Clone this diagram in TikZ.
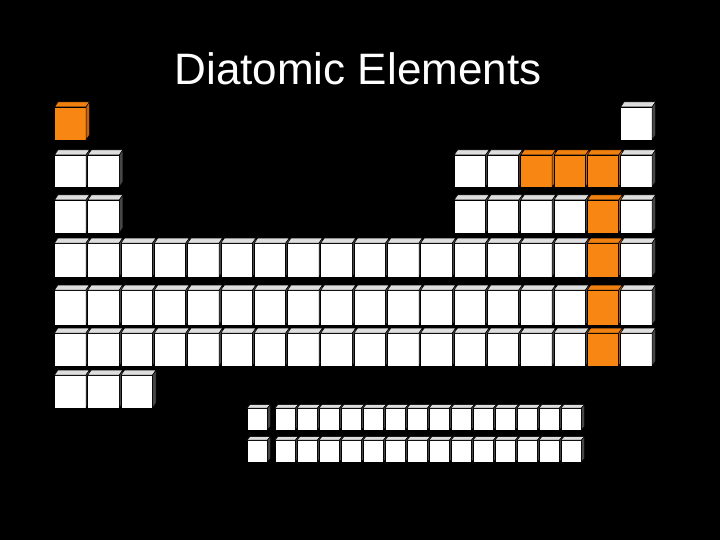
\documentclass[tikz,border=0pt]{standalone}
\usepackage{fontspec}
\setmainfont{Liberation Sans}
\definecolor{wface}{RGB}{255,255,255}
\definecolor{wtop}{RGB}{222,222,222}
\definecolor{wside}{RGB}{70,70,70}
\definecolor{oface}{RGB}{248,134,18}
\definecolor{otop}{RGB}{240,128,16}
\definecolor{oside}{RGB}{196,100,12}
% #1 x, #2 face top, #3 width, #4 height, #5 colour set (w/o), #6 bevel depth x, #7 bevel depth y
\newcommand\pcell[7]{%
  \filldraw[fill=#5face, draw=black, line width=0.9pt] (#1,#2) rectangle ++(#3,#4);
  \filldraw[fill=#5top, draw=black, line width=0.5pt] (#1,#2) -- ++(#6,-#7) -- ++(#3,0) -- ++(-#6,#7) -- cycle;
  \filldraw[fill=#5side, draw=black, line width=0.5pt] ($(#1,#2)+(#3,0)$) -- ++(#6,-#7) -- ++(0,#4) -- ++(-#6,#7) -- cycle;}
\usetikzlibrary{calc}
\begin{document}
\begin{tikzpicture}[x=1pt,y=-1pt]
\fill[black] (0,0) rectangle (720,540);
\useasboundingbox (0,0) rectangle (720,540);
\node[anchor=base, text=white, inner sep=0pt] (title) at (358,85) {\fontsize{44}{50}\selectfont Diatomic Elements};
% row 1
\foreach \c/\k in {1/o,18/w} {\pcell{21.2+33.3*\c}{107}{31.5}{33}{\k}{3.5}{5}}
% row 2
\foreach \c/\k in {1/w,2/w,13/w,14/w,15/o,16/o,17/o,18/w} {\pcell{21.2+33.3*\c}{155}{31.5}{32}{\k}{3.5}{5}}
% row 3
\foreach \c/\k in {1/w,2/w,13/w,14/w,15/w,16/w,17/o,18/w} {\pcell{21.2+33.3*\c}{200}{31.5}{33}{\k}{3.5}{5}}
% rows 4-6
\foreach \y/\h in {243/34,290/35,333/33} {
  \foreach \c in {1,...,16} {\pcell{21.2+33.3*\c}{\y}{31.5}{\h}{w}{3.5}{5}}
  \pcell{21.2+33.3*17}{\y}{31.5}{\h}{o}{3.5}{5}
  \pcell{21.2+33.3*18}{\y}{31.5}{\h}{w}{3.5}{5}
}
% row 7
\foreach \c in {1,2,3} {\pcell{21.2+33.3*\c}{375}{31.5}{33}{w}{3.5}{5}}
% f-block rows
\foreach \y in {408,440} {
  \pcell{247}{\y}{20.5}{22}{w}{3}{3.5}
  \foreach \j in {0,...,13} {\pcell{275+22*\j}{\y}{20.5}{22}{w}{3}{3.5}}
}
\end{tikzpicture}
\end{document}
